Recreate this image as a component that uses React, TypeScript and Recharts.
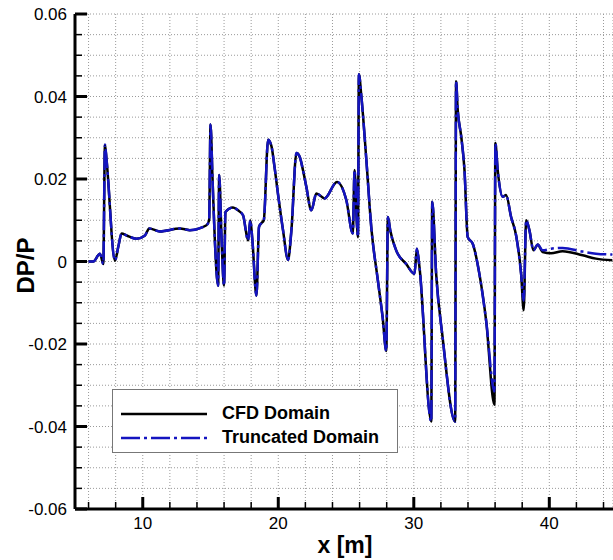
import React from 'react';
import { LineChart, Line, XAxis, YAxis, CartesianGrid, Legend } from 'recharts';

// x positions along the domain [m]
const xs = [
  6.0, 6.35, 6.84, 7.09, 7.21, 7.33, 7.95, 8.19, 8.44, 8.81,
  9.55, 10.16, 10.48, 11.26, 12.74, 13.47, 14.7, 14.9, 15.0, 15.15,
  15.32, 15.56, 15.64, 15.81, 16.0, 16.1, 16.66, 17.03, 17.4, 17.77,
  17.94, 18.09, 18.39, 18.58, 18.76, 18.93, 19.25, 19.5, 19.7, 19.99,
  20.35, 20.72, 20.97, 21.34, 21.58, 21.82, 22.07, 22.44, 22.81, 23.42,
  24.33, 25.02, 25.5, 25.63, 25.8, 25.88, 25.95, 26.13, 26.5, 26.86,
  27.35, 27.7, 27.97, 28.09, 28.26, 28.7, 29.44, 30.05, 30.23, 30.42,
  31.29, 31.36, 31.65, 32.13, 33.05, 33.12, 33.24, 33.5, 33.74, 33.98,
  34.35, 34.84, 35.34, 35.95, 36.02, 36.19, 36.56, 36.81, 37.18, 37.55,
  37.92, 38.11, 38.29, 38.53, 38.83, 39.14, 39.51, 40.13, 40.98, 42.46,
  43.44, 44.65,
];

const cfdDomain = [
  0, 0, 0.0019, -0.0006, 0.0283, 0.0246, 0.0002, 0.0035, 0.0068, 0.0063,
  0.0055, 0.0063, 0.008, 0.0073, 0.008, 0.0076, 0.0088, 0.01, 0.0332, 0.0198,
  0.0051, -0.0059, 0.021, 0.0059, -0.0059, 0.012, 0.0131, 0.0124, 0.0112, 0.0051,
  0.01, 0.0051, -0.0083, 0.0084, 0.0093, 0.01, 0.0295, 0.0279, 0.0235, 0.0161,
  0.0076, 0.0004, 0.0076, 0.0263, 0.0254, 0.0222, 0.0181, 0.0124, 0.0165, 0.0153,
  0.0193, 0.0149, 0.0068, 0.0222, 0.0092, 0.0059, 0.0454, 0.0401, 0.0246, 0.0084,
  -0.0046, -0.0135, -0.0217, 0.0108, 0.0076, 0.0027, -0.0006, -0.003, 0.0031, -0.0014,
  -0.0388, 0.0145, -0.003, -0.0185, -0.0388, 0.0437, 0.0368, 0.0303, 0.0222, 0.0059,
  0.0043, -0.003, -0.0144, -0.0347, 0.0287, 0.0222, 0.0157, 0.0161, 0.0108, 0.0063,
  -0.003, -0.0118, 0.01, 0.0076, 0.0027, 0.0041, 0.0023, 0.002, 0.0025, 0.0015,
  0.0007, 0.0003,
];

const truncatedDomain = [
  0, 0, 0.0019, -0.0006, 0.0283, 0.0246, 0.0002, 0.0035, 0.0068, 0.0063,
  0.0055, 0.0063, 0.008, 0.0073, 0.008, 0.0076, 0.0088, 0.01, 0.0332, 0.0198,
  0.0051, -0.0059, 0.021, 0.0059, -0.0059, 0.012, 0.0131, 0.0124, 0.0112, 0.0051,
  0.01, 0.0051, -0.0083, 0.0084, 0.0093, 0.01, 0.0295, 0.0279, 0.0235, 0.0161,
  0.0076, 0.0004, 0.0076, 0.0263, 0.0254, 0.0222, 0.0181, 0.0124, 0.0165, 0.0153,
  0.0193, 0.0149, 0.0068, 0.0222, 0.0092, 0.0059, 0.0454, 0.0401, 0.0246, 0.0084,
  -0.0046, -0.0135, -0.0217, 0.0108, 0.0076, 0.0027, -0.0006, -0.003, 0.0031, -0.0014,
  -0.0388, 0.0145, -0.003, -0.0185, -0.0388, 0.0437, 0.0368, 0.0303, 0.0222, 0.0059,
  0.0043, -0.003, -0.0144, -0.0315, 0.0287, 0.0222, 0.0157, 0.0161, 0.0108, 0.0063,
  -0.003, -0.0095, 0.01, 0.0076, 0.0027, 0.0041, 0.0027, 0.0031, 0.0033, 0.0024,
  0.0019, 0.0017,
];

const xTicks = [6, 8, 10, 12, 14, 16, 18, 20, 22, 24, 26, 28, 30, 32, 34, 36, 38, 40, 42, 44];
const xMajor = [10, 20, 30, 40];
const yTicks = [
  -0.06, -0.055, -0.05, -0.045, -0.04, -0.035, -0.03, -0.025, -0.02, -0.015, -0.01, -0.005,
  0, 0.005, 0.01, 0.015, 0.02, 0.025, 0.03, 0.035, 0.04, 0.045, 0.05, 0.055, 0.06,
];
const yMajor = [-0.06, -0.04, -0.02, 0, 0.02, 0.04, 0.06];

const data = xs.map((x, i) => ({ x, cfd: cfdDomain[i], truncated: truncatedDomain[i] }));

const FONT = '"Liberation Sans", Arial, Helvetica, sans-serif';
const BLUE = '#1414c0';
const DASH_DOT = '19 4 3 4';

const XTick = (props: any) => {
  const { x, y, payload } = props;
  const major = xMajor.includes(payload.value);
  return (
    <g>
      <line x1={x} x2={x} y1={y} y2={y - (major ? 12 : 7)} stroke="#000" strokeWidth={major ? 3 : 1.5} />
      {major && (
        <text x={x} y={y + 20} textAnchor="middle" fontSize={17} fontFamily={FONT} fill="#000">
          {payload.value}
        </text>
      )}
    </g>
  );
};

const YTick = (props: any) => {
  const { x, y, payload } = props;
  const major = yMajor.includes(payload.value);
  return (
    <g>
      <line x1={x} x2={x + (major ? 12 : 7)} y1={y} y2={y} stroke="#000" strokeWidth={major ? 3 : 1.5} />
      {major && (
        <text x={x - 8} y={y + 6} textAnchor="end" fontSize={17} fontFamily={FONT} fill="#000">
          {String(payload.value)}
        </text>
      )}
    </g>
  );
};

const LegendBox = () => (
  <div
    style={{
      width: 284,
      height: 62,
      background: '#fff',
      border: '1px solid #777',
      fontFamily: FONT,
      fontWeight: 'bold',
      fontSize: 18,
      position: 'relative',
    }}
  >
    <svg width={100} height={62} style={{ position: 'absolute', left: 0, top: 0 }}>
      <line x1={8} x2={94} y1={24} y2={24} stroke="#000" strokeWidth={2.5} />
      <line x1={8} x2={94} y1={48} y2={48} stroke={BLUE} strokeWidth={2.5} strokeDasharray={DASH_DOT} />
    </svg>
    <div style={{ position: 'absolute', left: 109, top: 13 }}>CFD Domain</div>
    <div style={{ position: 'absolute', left: 109, top: 37 }}>Truncated Domain</div>
  </div>
);

export default function App() {
  return (
    <div style={{ position: 'absolute', left: 0, top: 0, background: '#fff' }}>
      <LineChart width={613} height={560} data={data} margin={{ top: 14, right: 0, left: 0, bottom: 0 }}>
        <CartesianGrid stroke="#9a9a9a" strokeDasharray="1 2" />
        <XAxis
          dataKey="x"
          type="number"
          domain={[5, 44.7]}
          ticks={xTicks}
          interval={0}
          height={51}
          tickSize={0}
          tickMargin={0}
          tickLine={false}
          axisLine={{ stroke: '#000', strokeWidth: 3 }}
          tick={XTick}
          label={{
            content: (p: any) => (
              <text
                x={p.viewBox.x + p.viewBox.width / 2 + 1}
                y={p.viewBox.y + 44}
                textAnchor="middle"
                fontSize={23}
                fontWeight="bold"
                fontFamily={FONT}
                fill="#000"
              >
                x [m]
              </text>
            ),
          }}
        />
        <YAxis
          type="number"
          domain={[-0.06, 0.06]}
          ticks={yTicks}
          interval={0}
          width={75}
          tickSize={0}
          tickMargin={0}
          tickLine={false}
          axisLine={{ stroke: '#000', strokeWidth: 3 }}
          tick={YTick}
          label={{
            content: (p: any) => {
              const cx = 34;
              const cy = p.viewBox.y + p.viewBox.height / 2 + 4;
              return (
                <text
                  x={cx}
                  y={cy}
                  transform={`rotate(-90, ${cx}, ${cy})`}
                  textAnchor="middle"
                  fontSize={24}
                  fontWeight="bold"
                  fontFamily={FONT}
                  fill="#000"
                >
                  DP/P
                </text>
              );
            },
          }}
        />
        <Legend
          layout="vertical"
          align="center"
          verticalAlign="middle"
          wrapperStyle={{ left: 112, top: 389, width: 286 }}
          content={() => <LegendBox />}
        />
        <Line
          type="monotone"
          dataKey="cfd"
          name="CFD Domain"
          stroke="#000"
          strokeWidth={2.5}
          dot={false}
          activeDot={false}
          isAnimationActive={false}
        />
        <Line
          type="monotone"
          dataKey="truncated"
          name="Truncated Domain"
          stroke={BLUE}
          strokeWidth={2.5}
          strokeDasharray={DASH_DOT}
          dot={false}
          activeDot={false}
          isAnimationActive={false}
        />
      </LineChart>
    </div>
  );
}
